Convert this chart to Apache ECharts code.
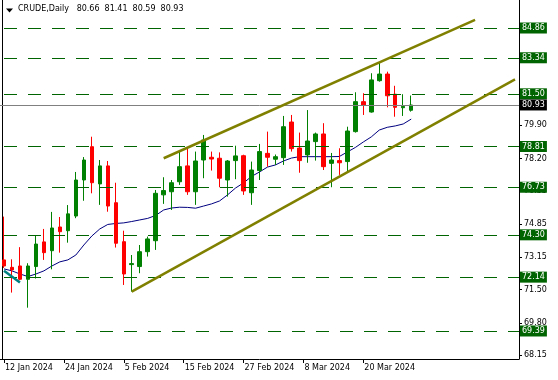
<!DOCTYPE html>
<html><head><meta charset="utf-8">
<script src="https://cdn.jsdelivr.net/npm/echarts@6/dist/echarts.min.js"></script>
<style>html,body{margin:0;padding:0;background:#fff}#c{width:558px;height:380px}</style>
</head><body><div id="c"></div>
<script>
const symbolName = 'CRUDE';
const timeframe = 'Daily';
const dates = ['2024-01-12','2024-01-15','2024-01-16','2024-01-17','2024-01-18','2024-01-19',
  '2024-01-22','2024-01-23','2024-01-24','2024-01-25','2024-01-26','2024-01-29','2024-01-30','2024-01-31',
  '2024-02-01','2024-02-02','2024-02-05','2024-02-06','2024-02-07','2024-02-08','2024-02-09',
  '2024-02-12','2024-02-13','2024-02-14','2024-02-15','2024-02-16','2024-02-19','2024-02-20','2024-02-21',
  '2024-02-22','2024-02-23','2024-02-26','2024-02-27','2024-02-28','2024-02-29','2024-03-01',
  '2024-03-04','2024-03-05','2024-03-06','2024-03-07','2024-03-08','2024-03-11','2024-03-12','2024-03-13',
  '2024-03-14','2024-03-15','2024-03-18','2024-03-19','2024-03-20','2024-03-21','2024-03-22','2024-03-25'];
const opens  = [73.02,72.64,72.71,72.03,72.68,73.94,73.49,74.70,74.51,75.26,77.10,78.80,76.90,77.82,75.94,73.95,72.78,72.68,73.44,74.00,
  76.34,76.50,77.01,77.82,76.50,78.12,78.26,78.21,77.10,78.09,78.34,76.45,77.58,78.46,78.16,78.24,80.06,78.73,78.38,79.06,
  79.45,77.95,78.09,78.04,79.57,81.10,80.57,82.17,82.51,81.48,80.79,80.66];
const highs  = [75.23,73.05,73.67,72.85,74.24,74.60,75.47,75.21,75.82,77.51,78.27,79.31,78.12,78.07,76.96,74.51,73.27,73.78,74.21,76.59,
  77.24,77.10,78.55,78.72,78.55,79.40,78.55,78.51,78.12,78.85,78.39,78.04,78.94,79.57,78.40,80.37,80.42,79.52,80.67,79.52,
  80.00,78.48,78.72,79.82,81.58,81.53,82.55,83.09,82.63,81.91,81.48,81.41];
const lows   = [72.61,71.35,71.98,70.58,72.07,73.02,72.54,73.39,73.90,75.15,76.04,76.42,75.83,75.48,73.65,71.74,71.40,72.34,73.19,73.53,
  75.88,75.57,76.85,76.34,75.83,77.19,77.58,76.73,76.25,77.14,76.34,75.83,77.10,77.78,77.87,77.87,78.55,77.47,77.98,78.09,
  77.61,76.73,77.36,77.52,79.52,80.42,80.54,82.12,80.81,80.33,80.37,80.59];
const closes = [72.71,72.51,72.03,72.71,73.83,73.39,74.65,74.46,75.37,77.10,78.12,76.96,77.82,75.77,73.87,72.30,72.83,73.44,74.09,76.42,
  76.56,76.96,77.78,76.50,78.07,79.14,78.17,77.19,78.07,78.33,76.54,77.61,78.55,78.26,78.29,79.82,78.70,78.09,79.09,79.45,
  77.78,78.12,77.98,79.60,81.10,80.93,82.21,82.51,81.40,80.81,80.86,80.93];
const movingAvg = [72.56,72.46,72.30,72.17,72.30,72.46,72.71,72.92,73.02,73.27,73.78,74.24,74.60,74.83,74.88,74.91,74.98,75.06,75.14,75.29,
  75.57,75.67,75.71,75.70,75.66,75.77,75.88,76.03,76.34,76.69,76.95,77.28,77.51,77.76,77.87,78.07,78.22,78.29,78.29,78.29,
  78.29,78.29,78.30,78.53,78.76,79.04,79.30,79.65,79.79,79.86,79.96,80.21];
const levels = [84.86, 83.34, 81.50, 78.81, 76.73, 74.30, 72.14, 69.39];
const currentPrice = 80.93;
const trendUpper = [[20, 78.21], [59, 85.27]];
const trendLower = [[16, 71.40], [64, 82.24]];
const trendOld = [[0, 72.47], [2, 71.86]];
const yTicks = [68.15, 69.80, 71.50, 73.15, 74.85, 76.55, 78.20, 79.90];
const xTickLabels = ['12 Jan 2024','24 Jan 2024','5 Feb 2024','15 Feb 2024','27 Feb 2024','8 Mar 2024','20 Mar 2024'];

// layout constants
const futureSlots = 13;
const xLabelEvery = 7.5;
const yMin = 67.96, yMax = 86.29;
const FONT = 'DejaVu Sans';

const N = dates.length + futureSlots;
const cats = dates.concat(Array.from({length: futureSlots}, (_, i) => 'f' + (i + 1)));
const xTickPos = xTickLabels.map((_, k) => k * xLabelEvery);
const candles = dates.map((_, i) => [opens[i], closes[i], lows[i], highs[i]]);
const last = dates.length - 1;
const f2 = v => v.toFixed(2);

const chart = echarts.init(document.getElementById('c'), null, {renderer: 'canvas'});
const lvlLabel = (bg) => ({
  show: true, position: 'end', distance: 1,
  formatter: p => f2(p.value),
  color: '#fff', backgroundColor: bg, padding: [1, 2, 0, 2],
  fontFamily: FONT, fontSize: 8, lineHeight: 10
});
chart.setOption({
  animation: false,
  backgroundColor: '#fff',
  title: {
    text: symbolName + ',' + timeframe + '   ' + [opens[last], highs[last], lows[last], closes[last]].map(f2).join('  '),
    left: 18, top: 5, padding: 0,
    textStyle: {fontFamily: FONT, fontSize: 8, fontWeight: 'normal', color: '#000'}
  },
  graphic: [
    {type: 'polygon', shape: {points: [[6, 8.5], [13, 8.5], [9.5, 12.5]]}, style: {fill: '#000'}},
    {type: 'line', shape: {x1: 2.5, y1: 0, x2: 2.5, y2: 359}, style: {stroke: '#000', lineWidth: 1}}
  ],
  grid: {left: -1, width: 520, top: 0, bottom: 21, containLabel: false},
  xAxis: [
    {type: 'category', data: cats, boundaryGap: true,
     axisLine: {show: true, onZero: false, lineStyle: {color: '#000', width: 1}},
     axisTick: {show: false}, axisLabel: {show: false}, splitLine: {show: false}},
    {type: 'value', min: -0.5, max: N - 0.5, position: 'bottom',
     axisLine: {show: false, onZero: false}, splitLine: {show: false},
     axisTick: {show: true, length: 4, customValues: xTickPos, lineStyle: {color: '#000'}},
     axisLabel: {customValues: xTickPos, formatter: v => xTickLabels[Math.round(v / xLabelEvery)],
       align: 'left', margin: 5, padding: [0, 0, 0, 1], color: '#000', fontFamily: FONT, fontSize: 8}}
  ],
  yAxis: [{
    type: 'value', position: 'right', min: yMin, max: yMax, scale: true,
    axisLine: {show: true, onZero: false, lineStyle: {color: '#000', width: 1}},
    axisTick: {show: true, length: 3, customValues: yTicks, lineStyle: {color: '#000'}},
    axisLabel: {customValues: yTicks, formatter: v => f2(v), margin: 5, color: '#000', fontFamily: FONT, fontSize: 8},
    splitLine: {show: false}
  }],
  series: [
    {type: 'line', data: movingAvg, xAxisIndex: 0, symbol: 'none', z: 3,
     lineStyle: {color: '#000080', width: 1}},
    {type: 'candlestick', data: candles, xAxisIndex: 0, barWidth: 4, z: 4,
     itemStyle: {color: '#008000', color0: '#ff0000', borderColor: '#008000', borderColor0: '#ff0000', borderWidth: 1},
     markLine: {
       symbol: ['none', 'none'], silent: true, animation: false,
       data: levels.map(v => ({yAxis: v, lineStyle: {color: '#006400', width: 1, type: [13, 11], dashOffset: 20},
                                label: lvlLabel('#006400')}))
         .concat([{yAxis: currentPrice, lineStyle: {color: '#808080', width: 1, type: 'solid'}, label: lvlLabel('#000')}])
     }},
    {type: 'line', data: trendUpper, xAxisIndex: 0, symbol: 'none', z: 5, lineStyle: {color: '#808000', width: 2.5}},
    {type: 'line', data: trendLower, xAxisIndex: 0, symbol: 'none', z: 5, lineStyle: {color: '#808000', width: 2.5}},
    {type: 'line', data: trendOld, xAxisIndex: 0, symbol: 'none', z: 5, lineStyle: {color: '#008080', width: 2.5}}
  ]
});
</script></body></html>
